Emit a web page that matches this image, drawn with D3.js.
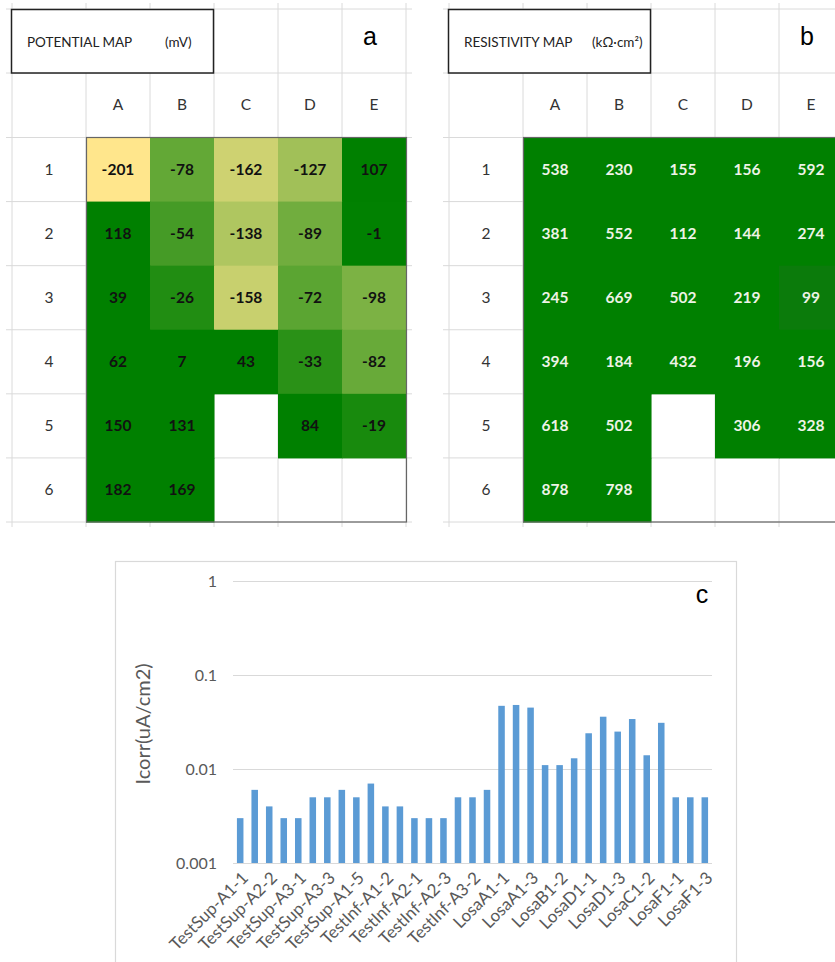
<!DOCTYPE html>
<html>
<head>
<meta charset="utf-8">
<script src="https://cdn.jsdelivr.net/npm/d3@7"></script>
<style>
  body { margin: 0; background: #fff; }
  svg { display: block; }
</style>
</head>
<body>
<div id="chart-area"></div>
<script>
// Grid maps data
const cols = ['A', 'B', 'C', 'D', 'E'];
const rows = [1, 2, 3, 4, 5, 6];

const potential = [
    [-201, -78, -162, -127, 107],
    [118, -54, -138, -89, -1],
    [39, -26, -158, -72, -98],
    [62, 7, 43, -33, -82],
    [150, 131, null, 84, -19],
    [182, 169, null, null, null]
];

const resistivity = [
    [538, 230, 155, 156, 592],
    [381, 552, 112, 144, 274],
    [245, 669, 502, 219, 99],
    [394, 184, 432, 196, 156],
    [618, 502, null, 306, 328],
    [878, 798, null, null, null]
];

// Icorr bar data
const samples = [
    'TestSup-A1-1', 'TestSup-A2-1', 'TestSup-A2-2', 'TestSup-A2-3', 'TestSup-A3-1',
    'TestSup-A3-2', 'TestSup-A3-3', 'TestSup-A1-4', 'TestSup-A1-5', 'TestInf-A1-1',
    'TestInf-A1-2', 'TestInf-A1-3', 'TestInf-A2-1', 'TestInf-A2-2', 'TestInf-A2-3',
    'TestInf-A3-1', 'TestInf-A3-2', 'TestInf-A3-3', 'LosaA1-1', 'LosaA1-2',
    'LosaA1-3', 'LosaB1-1', 'LosaB1-2', 'LosaB1-3', 'LosaD1-1',
    'LosaD1-2', 'LosaD1-3', 'LosaC1-1', 'LosaC1-2', 'LosaC1-3',
    'LosaF1-1', 'LosaF1-2', 'LosaF1-3'
];
const icorr = [
    0.003, 0.006, 0.004, 0.003, 0.003, 0.005, 0.005, 0.006, 0.005, 0.007,
    0.004, 0.004, 0.003, 0.003, 0.003, 0.005, 0.005, 0.006, 0.047, 0.048,
    0.045, 0.011, 0.011, 0.013, 0.024, 0.036, 0.025, 0.034, 0.014, 0.031,
    0.005, 0.005, 0.005
];
const yTicks = [0.001, 0.01, 0.1, 1];

const W = 835, H = 962;
const svg = d3.select('#chart-area')
    .append('svg')
    .attr('width', W)
    .attr('height', H);

const gridColor = '#dadada';
const textColor = '#333';

// Draw one spreadsheet-like map
const drawMap = (x0, title, unit, letter, data, colorFn, valueColor) => {
    const g = svg.append('g').attr('transform', 'translate(' + x0 + ', 0)');

    const x = d3.scaleBand().domain(cols).range([86, 406]);
    const y = d3.scaleBand().domain(rows).range([137.5, 522]);
    const gridX = [12].concat(cols.map((c) => x(c)), [406]);
    const gridY = [9, 73].concat(rows.map((r) => y(r)), [522]);

    // Gridlines
    g.selectAll('.vgrid')
        .data(gridX)
        .enter().append('line')
        .attr('x1', (d) => d).attr('x2', (d) => d)
        .attr('y1', 3).attr('y2', 527)
        .attr('stroke', gridColor);
    g.selectAll('.hgrid')
        .data(gridY)
        .enter().append('line')
        .attr('x1', 6).attr('x2', 412)
        .attr('y1', (d) => d).attr('y2', (d) => d)
        .attr('stroke', gridColor);

    // Cells
    const cells = [];
    data.forEach((row, i) => {
        row.forEach((v, j) => {
            if (v !== null) cells.push({ r: rows[i], c: cols[j], v: v });
        });
    });

    g.selectAll('.cell')
        .data(cells)
        .enter().append('rect')
        .attr('x', (d) => x(d.c))
        .attr('y', (d) => y(d.r))
        .attr('width', x.bandwidth() + 0.5)
        .attr('height', y.bandwidth() + 0.5)
        .attr('fill', (d) => colorFn(d.v));

    g.selectAll('.val')
        .data(cells)
        .enter().append('text')
        .attr('x', (d) => x(d.c) + x.bandwidth() / 2)
        .attr('y', (d) => y(d.r) + y.bandwidth() / 2)
        .attr('dy', '0.35em')
        .attr('text-anchor', 'middle')
        .attr('font-family', 'Lato, sans-serif')
        .attr('font-weight', 'bold')
        .attr('font-size', '15.5px')
        .attr('fill', valueColor)
        .text((d) => d.v);

    // Outline of data range
    g.append('rect')
        .attr('x', 86.5).attr('y', 137.5)
        .attr('width', 320).attr('height', 384.5)
        .attr('fill', 'none')
        .attr('stroke', '#666')
        .attr('stroke-width', 1.2);

    // Column headers
    g.selectAll('.colh')
        .data(cols)
        .enter().append('text')
        .attr('x', (d) => x(d) + x.bandwidth() / 2)
        .attr('y', 105)
        .attr('dy', '0.35em')
        .attr('text-anchor', 'middle')
        .attr('font-family', 'Lato, sans-serif')
        .attr('font-size', '15.5px')
        .attr('fill', textColor)
        .text((d) => d);

    // Row headers
    g.selectAll('.rowh')
        .data(rows)
        .enter().append('text')
        .attr('x', 49)
        .attr('y', (d) => y(d) + y.bandwidth() / 2)
        .attr('dy', '0.35em')
        .attr('text-anchor', 'middle')
        .attr('font-family', 'Lato, sans-serif')
        .attr('font-size', '15.5px')
        .attr('fill', textColor)
        .text((d) => d);

    // Title box
    g.append('rect')
        .attr('x', 11.5).attr('y', 9.5)
        .attr('width', 202).attr('height', 63.5)
        .attr('fill', '#fff')
        .attr('stroke', '#222')
        .attr('stroke-width', 1.5);
    g.append('text')
        .attr('x', 27).attr('y', 47)
        .attr('font-family', 'Lato, sans-serif')
        .attr('font-size', '13.5px')
        .attr('fill', '#222')
        .text(title);
    g.append('text')
        .attr('x', unit.x).attr('y', 47)
        .attr('font-family', 'Lato, sans-serif')
        .attr('font-size', '13.5px')
        .attr('fill', '#222')
        .text(unit.t);

    // Panel letter
    g.append('text')
        .attr('x', 370).attr('y', 45)
        .attr('text-anchor', 'middle')
        .attr('font-family', 'Liberation Sans, Arial, sans-serif')
        .attr('font-size', '25px')
        .attr('fill', '#000')
        .text(letter);
};

// Potential colour scale: yellow (most negative) to green
const potColor = d3.scaleLinear()
    .domain([-201, 0])
    .range(['#ffe68c', '#008000'])
    .clamp(true);

// Resistivity colour scale
const resColor = d3.scaleLinear()
    .domain([99, 112])
    .range(['#0b7b0b', '#008000'])
    .clamp(true);

drawMap(0, 'POTENTIAL MAP', { x: 165, t: '(mV)' }, 'a', potential, potColor, '#111');
drawMap(437, 'RESISTIVITY MAP', { x: 155, t: '(kΩ·cm²)' }, 'b', resistivity, resColor, '#eef3e6');

// ---------- Bar chart (c) ----------
svg.append('rect')
    .attr('x', 115.5).attr('y', 561.5)
    .attr('width', 621).attr('height', 420)
    .attr('fill', '#fff')
    .attr('stroke', '#d9d9d9')
    .attr('stroke-width', 1.2);

const x = d3.scaleBand()
    .domain(samples)
    .range([233, 712])
    .paddingInner(0.55)
    .paddingOuter(0.27);

const y = d3.scaleLog()
    .domain([0.001, 1])
    .range([863, 581]);

const yAxisCall = d3.axisLeft(y)
    .tickValues(yTicks)
    .tickSize(-(712 - 233))
    .tickPadding(16)
    .tickFormat((d) => String(d));

const yAxisGroup = svg.append('g')
    .attr('transform', 'translate(233, 0)')
    .call(yAxisCall);
yAxisGroup.select('.domain').remove();
yAxisGroup.selectAll('line').attr('stroke', '#d9d9d9').attr('stroke-width', 1.2);
yAxisGroup.selectAll('text')
    .attr('font-family', 'Lato, sans-serif')
    .attr('font-size', '16px')
    .attr('fill', '#595959');

svg.selectAll('.bar')
    .data(icorr)
    .enter().append('rect')
    .attr('x', (d, i) => x(samples[i]))
    .attr('y', (d) => y(d))
    .attr('width', x.bandwidth())
    .attr('height', (d) => 863 - y(d))
    .attr('fill', '#5b9bd5');

const xAxisCall = d3.axisBottom(x)
    .tickValues(samples.filter((d, i) => i % 2 === 0))
    .tickSize(0)
    .tickPadding(0);

const xAxisGroup = svg.append('g')
    .attr('transform', 'translate(0, 863)')
    .call(xAxisCall);
xAxisGroup.select('.domain').remove();
xAxisGroup.selectAll('text')
    .attr('font-family', 'Lato, sans-serif')
    .attr('font-size', '17px')
    .attr('fill', '#595959')
    .attr('text-anchor', 'end')
    .attr('dy', '0')
    .attr('transform', 'translate(9, 16) rotate(-45)');

// Y label
svg.append('text')
    .attr('transform', 'translate(150, 724) rotate(-90)')
    .attr('text-anchor', 'middle')
    .attr('font-family', 'Lato, sans-serif')
    .attr('font-size', '20px')
    .attr('fill', '#595959')
    .text('Icorr(uA/cm2)');

svg.append('text')
    .attr('x', 702).attr('y', 603)
    .attr('text-anchor', 'middle')
    .attr('font-family', 'Liberation Sans, Arial, sans-serif')
    .attr('font-size', '25px')
    .attr('fill', '#000')
    .text('c');
</script>
</body>
</html>
